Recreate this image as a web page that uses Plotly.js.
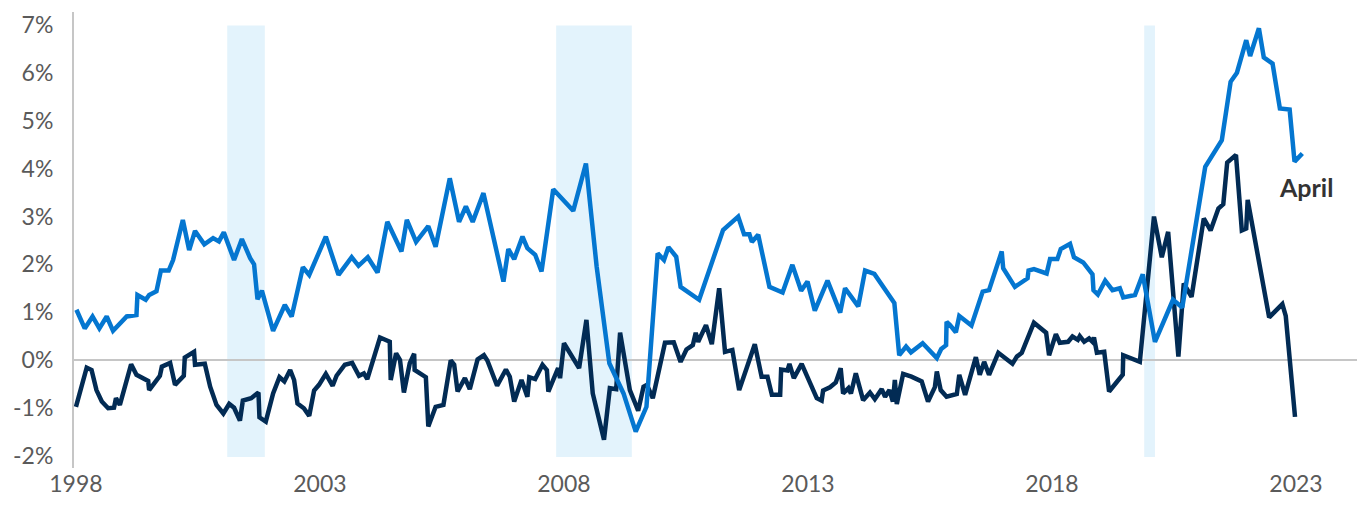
<!DOCTYPE html>
<html>
<head>
<meta charset="utf-8">
<script src="https://cdn.plot.ly/plotly-3.0.1.min.js"></script>
<style>
  html, body { margin: 0; padding: 0; background: #fff; }
  #chart { width: 1363px; height: 506px; }
</style>
</head>
<body>
<div id="chart"></div>
<script>
// Light blue series (decimal years, %)
const blueYears = [
  1998.01,1998.18,1998.34,1998.48,1998.63,1998.76,1999.04,1999.24,1999.26,1999.43,1999.50,1999.65,1999.74,1999.90,1999.99,
  2000.19,2000.32,2000.44,2000.63,2000.81,2000.93,2001.03,2001.24,2001.40,2001.57,2001.65,2001.72,2001.81,2002.04,2002.28,
  2002.42,2002.65,2002.78,2003.12,2003.38,2003.65,2003.79,2003.98,2004.18,2004.38,2004.67,2004.78,2004.97,2005.22,2005.37,
  2005.66,2005.85,2005.99,2006.13,2006.35,2006.76,2006.86,2006.98,2007.15,2007.25,2007.41,2007.54,2007.78,2008.19,2008.45,
  2008.67,2008.93,2009.22,2009.47,2009.69,2009.92,2010.05,2010.14,2010.30,2010.39,2010.77,2011.26,2011.57,2011.69,2011.80,
  2011.85,2011.98,2012.21,2012.48,2012.68,2012.86,2012.99,2013.14,2013.40,2013.66,2013.76,2014.03,2014.17,2014.36,2014.77,
  2014.87,2015.01,2015.11,2015.35,2015.64,2015.73,2015.83,2015.84,2015.91,2016.03,2016.10,2016.35,2016.58,2016.71,2016.97,
  2017.00,2017.24,2017.50,2017.52,2017.63,2017.89,2017.96,2018.11,2018.18,2018.37,2018.45,2018.64,2018.83,2018.85,2018.94,
  2019.09,2019.24,2019.39,2019.46,2019.70,2019.86,2020.11,2020.48,2020.67,2021.14,2021.48,2021.66,2021.79,2021.98,2022.06,
  2022.24,2022.34,2022.52,2022.67,2022.87,2022.97,2023.13
];
const blueValues = [
  1.05,0.66,0.91,0.66,0.91,0.61,0.91,0.94,1.36,1.26,1.36,1.44,1.87,1.87,2.09,
  2.93,2.30,2.70,2.42,2.55,2.48,2.67,2.09,2.53,2.13,2.00,1.27,1.45,0.61,1.15,
  0.91,1.94,1.78,2.58,1.78,2.15,1.97,2.15,1.83,2.89,2.27,2.93,2.47,2.80,2.37,
  3.80,2.89,3.21,2.89,3.49,1.64,2.32,2.11,2.58,2.34,2.20,1.85,3.57,3.12,4.11,
  1.95,-0.07,-0.70,-1.50,-0.98,2.23,2.09,2.36,2.16,1.53,1.26,2.72,3.00,2.63,2.63,
  2.47,2.62,1.53,1.41,1.99,1.45,1.64,1.03,1.66,0.99,1.50,1.12,1.87,1.80,1.19,
  0.10,0.28,0.16,0.35,0.04,0.23,0.31,0.80,0.73,0.58,0.92,0.72,1.43,1.46,2.27,
  1.92,1.53,1.71,1.87,1.90,1.81,2.11,2.11,2.32,2.43,2.15,2.04,1.79,1.46,1.37,
  1.66,1.46,1.50,1.31,1.36,1.79,0.38,1.26,1.10,4.04,4.60,5.82,6.01,6.69,6.36,
  6.94,6.33,6.20,5.26,5.24,4.15,4.32
];

// Dark navy series (decimal years, %)
const navyYears = [
  1998.00,1998.22,1998.32,1998.42,1998.53,1998.66,1998.78,1998.82,1998.90,1999.13,1999.24,1999.48,1999.50,1999.72,1999.76,
  1999.93,2000.03,2000.21,2000.23,2000.42,2000.44,2000.64,2000.75,2000.88,2001.02,2001.14,2001.24,2001.36,2001.42,2001.59,
  2001.74,2001.76,2001.89,2002.04,2002.17,2002.27,2002.39,2002.47,2002.54,2002.67,2002.78,2002.88,2002.98,2003.12,2003.26,
  2003.34,2003.51,2003.66,2003.80,2003.90,2003.97,2004.23,2004.43,2004.45,2004.56,2004.64,2004.72,2004.84,2004.93,2004.94,
  2005.17,2005.22,2005.37,2005.53,2005.68,2005.75,2005.82,2005.97,2006.07,2006.23,2006.36,2006.43,2006.63,2006.81,2006.89,
  2006.98,2007.13,2007.25,2007.29,2007.41,2007.56,2007.65,2007.68,2007.88,2007.92,2008.00,2008.31,2008.46,2008.59,2008.82,
  2008.94,2009.07,2009.15,2009.35,2009.52,2009.63,2009.70,2009.82,2010.07,2010.25,2010.39,2010.51,2010.64,2010.70,2010.75,
  2010.91,2011.03,2011.18,2011.30,2011.45,2011.59,2011.91,2012.05,2012.17,2012.26,2012.43,2012.45,2012.58,2012.62,2012.71,
  2012.87,2013.18,2013.28,2013.31,2013.45,2013.57,2013.67,2013.72,2013.83,2013.88,2013.98,2014.13,2014.27,2014.37,2014.51,
  2014.58,2014.67,2014.74,2014.78,2014.82,2014.95,2015.12,2015.33,2015.46,2015.60,2015.64,2015.72,2015.84,2016.05,2016.10,
  2016.22,2016.44,2016.52,2016.61,2016.71,2016.90,2017.19,2017.28,2017.38,2017.63,2017.88,2017.94,2018.08,2018.16,2018.33,
  2018.42,2018.53,2018.57,2018.66,2018.76,2018.83,2018.86,2018.92,2019.07,2019.17,2019.45,2019.46,2019.80,2020.09,2020.25,
  2020.38,2020.59,2020.70,2020.86,2021.11,2021.25,2021.41,2021.51,2021.59,2021.77,2021.89,2021.98,2022.01,2022.45,2022.72,
  2022.79,2022.98
];
const navyValues = [
  -0.98,-0.16,-0.21,-0.63,-0.87,-1.01,-1.00,-0.80,-0.94,-0.09,-0.31,-0.44,-0.63,-0.33,-0.14,
  -0.06,-0.52,-0.33,0.05,0.17,-0.10,-0.08,-0.56,-0.94,-1.12,-0.92,-1.00,-1.27,-0.85,-0.80,
  -0.68,-1.20,-1.29,-0.70,-0.36,-0.45,-0.21,-0.42,-0.91,-1.01,-1.17,-0.64,-0.52,-0.29,-0.54,
  -0.33,-0.10,-0.06,-0.33,-0.28,-0.40,0.47,0.38,-0.42,0.14,0.00,-0.68,-0.07,0.13,-0.21,
  -0.36,-1.39,-0.98,-0.94,-0.01,-0.10,-0.66,-0.38,-0.61,0.01,0.10,-0.01,-0.54,-0.20,-0.35,
  -0.87,-0.42,-0.77,-0.36,-0.40,-0.10,-0.21,-0.66,-0.17,-0.38,0.35,-0.17,0.84,-0.70,-1.67,
  -0.59,-0.61,0.57,-0.63,-1.06,-0.56,-0.52,-0.80,0.36,0.37,-0.04,0.22,0.31,0.57,0.38,
  0.73,0.33,1.50,0.17,0.21,-0.63,0.33,-0.35,-0.35,-0.73,-0.73,-0.20,-0.22,-0.08,-0.38,
  -0.08,-0.80,-0.85,-0.64,-0.57,-0.47,-0.17,-0.70,-0.59,-0.70,-0.28,-0.84,-0.68,-0.82,-0.61,
  -0.77,-0.63,-0.87,-0.42,-0.92,-0.29,-0.35,-0.45,-0.87,-0.57,-0.24,-0.63,-0.77,-0.71,-0.31,
  -0.73,0.06,-0.31,-0.04,-0.31,0.15,-0.08,0.07,0.15,0.78,0.57,0.10,0.54,0.36,0.38,
  0.49,0.42,0.50,0.38,0.45,0.38,0.47,0.15,0.17,-0.66,-0.31,0.10,-0.04,3.00,2.15,
  2.68,0.07,1.60,1.32,2.96,2.71,3.17,3.26,4.13,4.29,2.71,2.75,3.35,0.89,1.17,
  0.92,-1.19
];

// Recession periods (decimal years)
const recessionStarts = [2001.10, 2007.84, 2019.89];
const recessionEnds   = [2001.87, 2009.39, 2020.11];

// Axis ticks
const xTickVals = [1998, 2003, 2008, 2013, 2018, 2023];
const xTickText = ['1998', '2003', '2008', '2013', '2018', '2023'];
const yTickVals = [-2, -1, 0, 1, 2, 3, 4, 5, 6, 7];
const yTickText = ['-2%', '-1%', '0%', '1%', '2%', '3%', '4%', '5%', '6%', '7%'];

const BLUE = '#0476d0';
const NAVY = '#022b54';
const SHADE = '#e3f3fc';

const traces = [
  { x: navyYears, y: navyValues, type: 'scatter', mode: 'lines',
    line: { color: NAVY, width: 4.5 }, hoverinfo: 'skip', showlegend: false },
  { x: blueYears, y: blueValues, type: 'scatter', mode: 'lines',
    line: { color: BLUE, width: 4.5 }, hoverinfo: 'skip', showlegend: false }
];

const shapes = recessionStarts.map((s, i) => ({
  type: 'rect', xref: 'x', yref: 'y', x0: s, x1: recessionEnds[i], y0: -2.03, y1: 7.0,
  fillcolor: SHADE, line: { width: 0 }, layer: 'below'
}));

const layout = {
  width: 1363, height: 506,
  margin: { l: 74, r: 6, t: 12, b: 38 },
  paper_bgcolor: '#fff', plot_bgcolor: '#fff',
  font: { family: 'Lato, "Open Sans", sans-serif', color: '#555' },
  xaxis: {
    range: [1997.96, 2024.25], showgrid: false, zeroline: false, showline: false,
    tickvals: xTickVals, ticktext: xTickText, ticks: '',
    tickfont: { size: 23, color: '#5a5a5a', family: 'Lato, sans-serif' }
  },
  yaxis: {
    range: [-2.26, 7.28], showgrid: false,
    zeroline: true, zerolinecolor: '#c6c6c6', zerolinewidth: 2,
    showline: true, linecolor: '#c6c6c6', linewidth: 2,
    tickvals: yTickVals, ticktext: yTickText, ticks: '', ticklabelstandoff: 14,
    tickfont: { size: 23, color: '#5a5a5a', family: 'Lato, sans-serif' }
  },
  shapes: shapes,
  annotations: [{
    x: blueYears[blueYears.length - 1], y: blueValues[blueValues.length - 1],
    xref: 'x', yref: 'y', text: '<b>April</b>', showarrow: false,
    xshift: 4, yshift: -34,
    font: { size: 25, color: '#333', family: 'Lato, sans-serif' }
  }]
};

Plotly.newPlot('chart', traces, layout, { staticPlot: true, displayModeBar: false });
</script>
</body>
</html>
